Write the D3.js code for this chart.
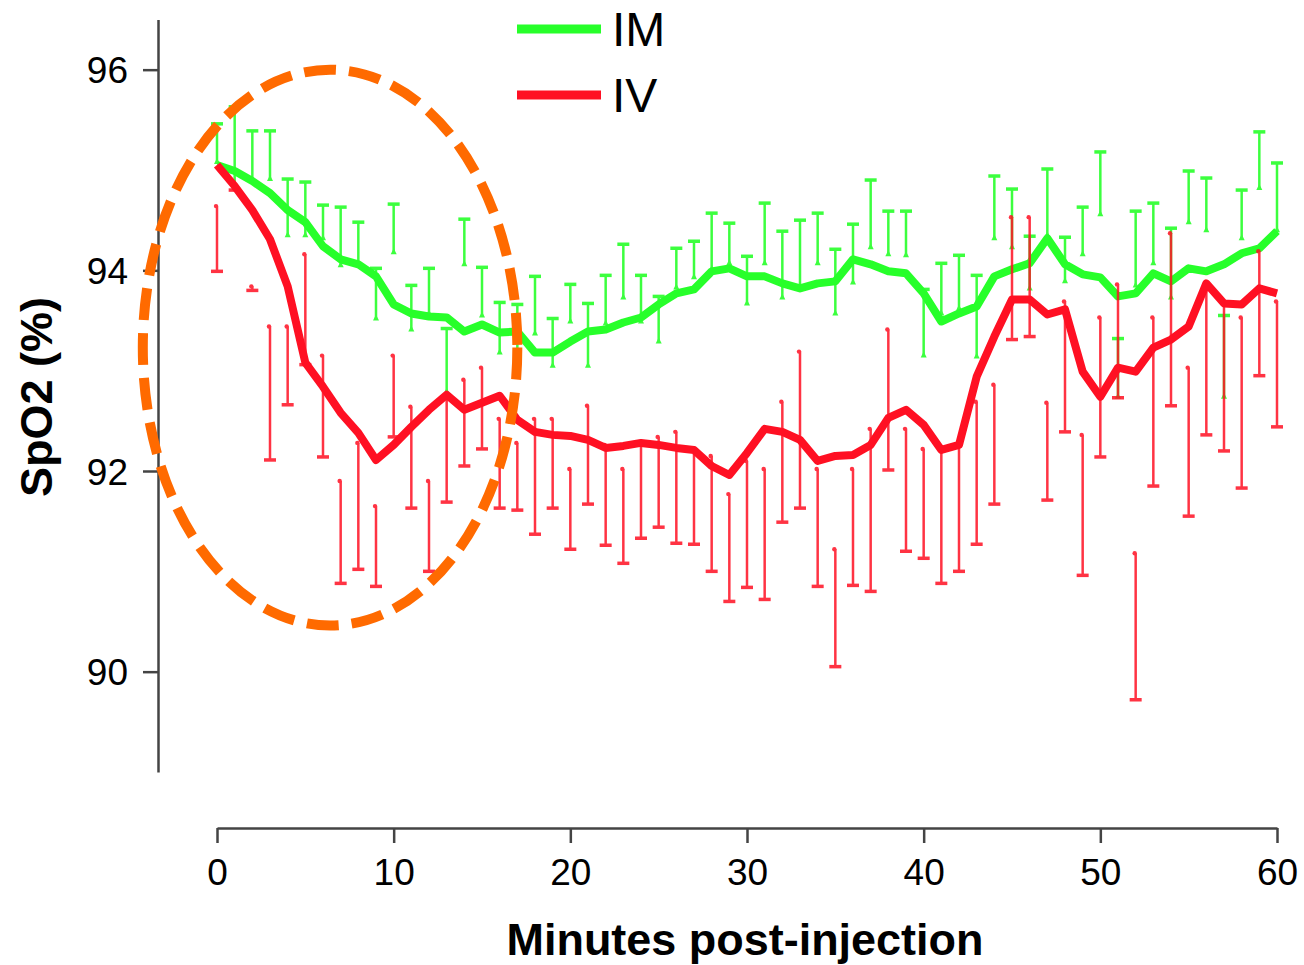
<!DOCTYPE html>
<html>
<head>
<meta charset="utf-8">
<script src="https://cdn.jsdelivr.net/npm/d3@7"></script>
<style>
  html, body { margin: 0; padding: 0; background: #fff; }
  text { font-family: "Liberation Sans", Arial, sans-serif; fill: #000; }
</style>
</head>
<body>
<svg id="chart" width="1304" height="965"></svg>
<script>
//------------------------------------------------------------------------------//
// 1. Data (one value per minute)
//------------------------------------------------------------------------------//

const minutes = [0,1,2,3,4,5,6,7,8,9,10,11,12,13,14,15,16,17,18,19,20,
  21,22,23,24,25,26,27,28,29,30,31,32,33,34,35,36,37,38,39,40,
  41,42,43,44,45,46,47,48,49,50,51,52,53,54,55,56,57,58,59,60];

// IM group: mean line, error bar top, error bar bottom
const imMean = [95.05,94.99,94.89,94.77,94.60,94.48,94.24,94.11,94.06,93.94,93.66,
  93.57,93.54,93.53,93.39,93.46,93.38,93.39,93.18,93.18,93.29,
  93.39,93.41,93.48,93.53,93.66,93.77,93.81,93.99,94.02,93.94,
  93.94,93.87,93.82,93.87,93.89,94.11,94.06,93.99,93.97,93.77,
  93.49,93.57,93.64,93.94,94.01,94.07,94.32,94.06,93.96,93.93,
  93.74,93.77,93.97,93.89,94.02,93.99,94.06,94.17,94.22,94.39];
const imHigh = [95.46,95.63,95.39,95.39,94.91,94.88,94.65,94.63,94.48,94.02,94.66,
  93.85,94.02,93.42,94.51,94.03,93.68,93.66,93.94,93.52,93.86,
  93.67,93.95,94.26,93.95,93.74,94.22,94.29,94.57,94.47,94.14,
  94.67,94.39,94.50,94.57,94.21,94.46,94.90,94.59,94.59,93.81,
  94.07,94.15,93.95,94.94,94.81,94.34,95.01,94.33,94.63,95.18,
  93.32,94.59,94.67,94.42,94.99,94.92,93.55,94.80,95.38,95.07];
const imLow = [95.07,94.82,94.89,94.90,94.34,94.34,94.31,94.04,94.06,93.51,94.17,
  93.40,93.56,92.78,94.05,93.54,93.17,93.11,93.36,93.04,93.48,
  93.04,93.46,93.72,93.48,93.28,93.82,93.92,94.00,94.06,93.66,
  94.06,93.72,93.84,94.06,93.56,93.87,94.22,94.15,94.14,93.14,
  93.56,93.61,93.13,94.31,94.22,93.81,94.34,93.88,94.15,94.55,
  92.73,93.84,94.06,93.72,94.47,94.39,92.73,94.31,94.81,94.39];

// IV group: mean line, error bar top, error bar bottom
const ivMean = [95.05,94.84,94.60,94.31,93.84,93.08,92.84,92.58,92.38,92.11,92.26,
  92.44,92.61,92.76,92.61,92.68,92.75,92.51,92.39,92.36,92.35,
  92.31,92.23,92.25,92.28,92.26,92.23,92.21,92.05,91.96,92.18,
  92.42,92.39,92.31,92.10,92.15,92.16,92.26,92.53,92.61,92.46,
  92.21,92.26,92.94,93.34,93.71,93.71,93.56,93.61,92.99,92.74,
  93.03,92.99,93.23,93.31,93.44,93.87,93.67,93.66,93.82,93.77];
const ivHigh = [94.64,94.87,93.84,93.44,93.44,94.16,93.15,91.90,92.28,91.65,93.15,
  92.64,91.90,92.76,92.91,93.03,92.52,92.28,92.52,92.52,92.02,
  92.65,92.26,92.02,92.28,92.34,92.39,92.20,92.15,91.77,92.10,
  92.02,92.69,93.19,92.02,91.22,92.02,92.42,93.41,92.42,92.22,
  92.21,92.26,92.69,92.86,94.53,94.53,92.68,93.69,92.36,93.53,
  93.86,91.18,93.53,94.37,93.03,93.79,93.68,93.53,94.19,93.69];
const ivLow = [93.99,94.80,93.80,92.11,92.66,93.06,92.14,90.88,91.02,90.85,92.34,
  91.63,91.00,91.69,92.05,92.22,91.63,91.61,91.37,91.63,91.22,
  91.67,91.26,91.08,91.33,91.44,91.28,91.27,91.00,90.70,90.84,
  90.72,91.49,91.63,90.85,90.05,90.86,90.80,92.01,91.20,91.13,
  90.88,91.00,91.27,91.67,93.31,93.34,91.71,92.39,90.96,92.14,
  92.73,89.72,91.85,92.65,91.55,92.36,92.20,91.83,92.95,92.44];

const xTicks = [0, 10, 20, 30, 40, 50, 60];
const yTicks = [90, 92, 94, 96];
const seriesNames = ["IM", "IV"];

// highlight ellipse (centre and half-axes in data units)
const highlight = { cx: 6.4, cy: 93.23, rx: 10.6, ry: 2.77 };

//------------------------------------------------------------------------------//
// 2. Svg, scales
//------------------------------------------------------------------------------//

const svg = d3.select("#chart");
const width = 1304;
const height = 965;

const green = "#27ff2a";
const red = "#ff1023";

const x = d3.scaleLinear().domain([0, 60]).range([217, 1277]);
const y = d3.scaleLinear().domain([89, 96.5]).range([772, 19.5]);

svg.append("rect").attr("width", width).attr("height", height).attr("fill", "#fff");

//------------------------------------------------------------------------------//
// 3. Axes
//------------------------------------------------------------------------------//

const xAxis = svg.append("g")
  .attr("transform", "translate(0,828)")
  .call(d3.axisBottom(x).tickValues(xTicks).tickSize(15).tickSizeOuter(0).tickPadding(16));

const yAxis = svg.append("g")
  .attr("transform", "translate(158,0)")
  .call(d3.axisLeft(y).tickValues(yTicks).tickSize(15).tickSizeOuter(0).tickPadding(15));

[xAxis, yAxis].forEach(g => {
  g.select(".domain").attr("stroke", "#444").attr("stroke-width", 2.5);
  g.selectAll(".tick line").attr("stroke", "#444").attr("stroke-width", 2.5);
  g.selectAll(".tick text")
    .attr("fill", "#000")
    .style("font-family", "'Liberation Sans', Arial, sans-serif")
    .style("font-size", "37px");
});
yAxis.selectAll(".tick text").attr("dy", "0.36em");

// axis titles
svg.append("text")
  .attr("x", 745)
  .attr("y", 955)
  .attr("text-anchor", "middle")
  .attr("textLength", 477)
  .attr("lengthAdjust", "spacingAndGlyphs")
  .style("font-size", "44px")
  .style("font-weight", "bold")
  .text("Minutes post-injection");

svg.append("text")
  .attr("transform", "translate(52,397) rotate(-90)")
  .attr("text-anchor", "middle")
  .attr("textLength", 200)
  .attr("lengthAdjust", "spacingAndGlyphs")
  .style("font-size", "44px")
  .style("font-weight", "bold")
  .text("SpO2 (%)");

//------------------------------------------------------------------------------//
// 4. Error bars + lines
//------------------------------------------------------------------------------//

const line = d3.line()
  .x(d => x(d.t))
  .y(d => y(d.v));

// IM bars: cap on top, small triangle at the bottom
const imBars = svg.append("g").attr("stroke", green).attr("stroke-width", 2.5).attr("opacity", 0.9);
minutes.forEach((t, i) => {
  const px = x(t), top = y(imHigh[i]), bot = y(imLow[i]);
  imBars.append("line").attr("x1", px).attr("x2", px).attr("y1", top).attr("y2", bot);
  imBars.append("line").attr("x1", px - 6).attr("x2", px + 6).attr("y1", top).attr("y2", top).attr("stroke-width", 3.5);
  imBars.append("path")
    .attr("d", `M${px - 3},${bot + 1}L${px + 3},${bot + 1}L${px},${bot - 5}Z`)
    .attr("fill", green).attr("stroke", "none");
});

svg.append("path")
  .datum(minutes.map((t, i) => ({ t: t, v: imMean[i] })))
  .attr("fill", "none")
  .attr("stroke", green)
  .attr("stroke-width", 8)
  .attr("stroke-linejoin", "round")
  .attr("d", line);

// IV bars: small dot on top, cap at the bottom
const ivBars = svg.append("g").attr("stroke", red).attr("stroke-width", 2.5).attr("opacity", 0.85);
minutes.forEach((t, i) => {
  const px = x(t), top = y(ivHigh[i]), bot = y(ivLow[i]);
  ivBars.append("line").attr("x1", px).attr("x2", px).attr("y1", top).attr("y2", bot);
  ivBars.append("line").attr("x1", px - 6).attr("x2", px + 6).attr("y1", bot).attr("y2", bot).attr("stroke-width", 3.5);
  ivBars.append("circle").attr("cx", px - 1).attr("cy", top).attr("r", 2.2).attr("fill", red).attr("stroke", "none");
});

svg.append("path")
  .datum(minutes.map((t, i) => ({ t: t, v: ivMean[i] })))
  .attr("fill", "none")
  .attr("stroke", red)
  .attr("stroke-width", 8)
  .attr("stroke-linejoin", "round")
  .attr("d", line);

//------------------------------------------------------------------------------//
// 5. Highlight ellipse
//------------------------------------------------------------------------------//

svg.append("ellipse")
  .attr("cx", x(highlight.cx))
  .attr("cy", y(highlight.cy))
  .attr("rx", x(highlight.rx) - x(0))
  .attr("ry", y(0) - y(highlight.ry))
  .attr("fill", "none")
  .attr("stroke", "#ff6a00")
  .attr("stroke-width", 10)
  .attr("stroke-dasharray", "32 13");

//------------------------------------------------------------------------------//
// 6. Legend
//------------------------------------------------------------------------------//

const legend = svg.append("g");
[green, red].forEach((c, i) => {
  const ly = 29 + i * 66;
  legend.append("line")
    .attr("x1", 517).attr("x2", 601)
    .attr("y1", ly).attr("y2", ly)
    .attr("stroke", c).attr("stroke-width", 9);
  legend.append("text")
    .attr("x", 612)
    .attr("y", ly + 17)
    .style("font-size", "48px")
    .text(seriesNames[i]);
});
</script>
</body>
</html>
